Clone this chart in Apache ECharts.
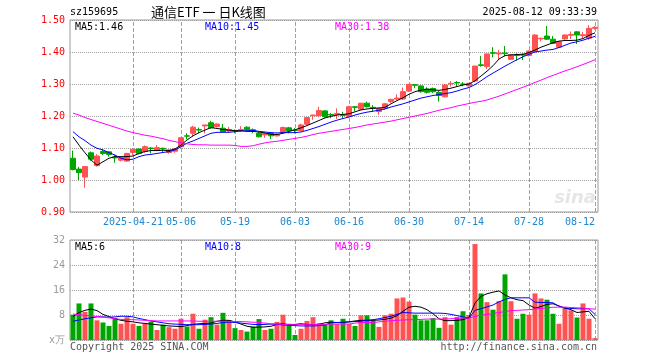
<!DOCTYPE html>
<html><head><meta charset="utf-8">
<script src="https://cdn.jsdelivr.net/npm/echarts@6/dist/echarts.min.js"></script>
<style>html,body{margin:0;padding:0;background:#fff}#c{width:660px;height:360px}</style>
</head><body><div id="c"></div>
<script>
const dates = [
'2025-04-07','2025-04-08','2025-04-09','2025-04-10','2025-04-11',
'2025-04-14','2025-04-15','2025-04-16','2025-04-17','2025-04-18',
'2025-04-21','2025-04-22','2025-04-23','2025-04-24','2025-04-25',
'2025-04-28','2025-04-29','2025-04-30',
'2025-05-06','2025-05-07','2025-05-08','2025-05-09',
'2025-05-12','2025-05-13','2025-05-14','2025-05-15','2025-05-16',
'2025-05-19','2025-05-20','2025-05-21','2025-05-22','2025-05-23',
'2025-05-26','2025-05-27','2025-05-28','2025-05-29','2025-05-30',
'2025-06-03','2025-06-04','2025-06-05','2025-06-06',
'2025-06-09','2025-06-10','2025-06-11','2025-06-12','2025-06-13',
'2025-06-16','2025-06-17','2025-06-18','2025-06-19','2025-06-20',
'2025-06-23','2025-06-24','2025-06-25','2025-06-26','2025-06-27',
'2025-06-30','2025-07-01','2025-07-02','2025-07-03','2025-07-04',
'2025-07-07','2025-07-08','2025-07-09','2025-07-10','2025-07-11',
'2025-07-14','2025-07-15','2025-07-16','2025-07-17','2025-07-18',
'2025-07-21','2025-07-22','2025-07-23','2025-07-24','2025-07-25',
'2025-07-28','2025-07-29','2025-07-30','2025-07-31','2025-08-01',
'2025-08-04','2025-08-05','2025-08-06','2025-08-07','2025-08-08',
'2025-08-11','2025-08-12'];

const opens = [1.068,1.034,1.009,1.085,1.045,1.089,1.088,1.072,1.062,1.059,
1.086,1.097,1.089,1.100,1.092,1.099,1.086,1.090,1.104,1.138,
1.146,1.158,1.169,1.179,1.167,1.162,1.153,1.155,1.155,1.165,
1.157,1.146,1.141,1.146,1.138,1.148,1.163,1.156,1.154,1.174,
1.201,1.201,1.216,1.205,1.205,1.204,1.198,1.229,1.221,1.240,
1.227,1.214,1.224,1.245,1.253,1.253,1.278,1.298,1.294,1.284,
1.286,1.274,1.260,1.300,1.305,1.300,1.294,1.309,1.360,1.354,
1.398,1.394,1.397,1.377,1.391,1.392,1.389,1.401,1.441,1.450,
1.440,1.415,1.441,1.452,1.463,1.451,1.443,1.474];
const closes = [1.033,1.023,1.042,1.065,1.075,1.083,1.080,1.069,1.070,1.083,
1.096,1.083,1.104,1.098,1.101,1.097,1.094,1.097,1.132,1.137,
1.165,1.156,1.172,1.163,1.175,1.151,1.158,1.153,1.158,1.157,
1.155,1.135,1.146,1.138,1.142,1.164,1.154,1.155,1.172,1.195,
1.203,1.217,1.198,1.203,1.208,1.202,1.229,1.227,1.240,1.229,
1.225,1.224,1.238,1.252,1.256,1.276,1.299,1.296,1.276,1.274,
1.276,1.264,1.297,1.302,1.303,1.299,1.302,1.356,1.358,1.394,
1.396,1.397,1.395,1.391,1.389,1.390,1.403,1.453,1.443,1.440,
1.427,1.432,1.453,1.455,1.453,1.454,1.474,1.477];
const lows = [1.030,1.000,0.976,1.060,1.042,1.078,1.073,1.054,1.058,1.057,
1.078,1.080,1.085,1.083,1.090,1.087,1.082,1.085,1.101,1.127,
1.135,1.146,1.146,1.160,1.164,1.150,1.149,1.146,1.151,1.155,
1.146,1.133,1.132,1.128,1.136,1.146,1.146,1.146,1.152,1.171,
1.188,1.196,1.195,1.193,1.191,1.193,1.195,1.215,1.218,1.226,
1.213,1.203,1.219,1.240,1.249,1.250,1.276,1.287,1.273,1.270,
1.272,1.245,1.258,1.292,1.292,1.293,1.292,1.306,1.354,1.347,
1.383,1.377,1.386,1.375,1.373,1.375,1.386,1.398,1.433,1.438,
1.425,1.413,1.438,1.441,1.425,1.443,1.438,1.470];
const highs = [1.092,1.041,1.042,1.089,1.081,1.096,1.090,1.078,1.072,1.085,
1.097,1.098,1.108,1.103,1.109,1.101,1.096,1.099,1.133,1.146,
1.169,1.164,1.172,1.185,1.177,1.175,1.166,1.158,1.168,1.168,
1.161,1.150,1.148,1.150,1.146,1.167,1.166,1.162,1.176,1.197,
1.204,1.229,1.218,1.209,1.224,1.213,1.232,1.230,1.241,1.245,
1.234,1.226,1.240,1.254,1.268,1.289,1.300,1.299,1.296,1.290,
1.289,1.278,1.300,1.309,1.309,1.306,1.304,1.357,1.388,1.395,
1.415,1.406,1.419,1.394,1.396,1.396,1.405,1.455,1.445,1.481,
1.450,1.434,1.455,1.464,1.465,1.463,1.484,1.481];

const ma5 = [1.135,1.109,1.085,1.063,1.046,1.057,1.068,1.073,1.073,1.073,
1.075,1.083,1.089,1.092,1.092,1.093,1.092,1.097,1.109,1.125,
1.138,1.148,1.156,1.164,1.161,1.158,1.156,1.154,1.154,1.152,
1.152,1.150,1.147,1.143,1.142,1.146,1.152,1.157,1.163,1.170,
1.178,1.186,1.194,1.199,1.203,1.205,1.207,1.213,1.219,1.222,
1.224,1.225,1.227,1.238,1.248,1.257,1.268,1.276,1.281,1.284,
1.282,1.280,1.283,1.287,1.292,1.297,1.300,1.310,1.325,1.340,
1.357,1.378,1.389,1.391,1.392,1.393,1.398,1.406,1.415,1.422,
1.429,1.434,1.436,1.436,1.437,1.442,1.452,1.460];
const ma10 = [1.151,1.135,1.123,1.109,1.099,1.094,1.085,1.078,1.068,1.063,
1.065,1.073,1.078,1.080,1.083,1.086,1.089,1.094,1.104,1.115,
1.122,1.130,1.138,1.146,1.149,1.149,1.149,1.151,1.153,1.154,
1.155,1.152,1.150,1.148,1.147,1.148,1.148,1.148,1.150,1.155,
1.161,1.167,1.174,1.181,1.187,1.192,1.197,1.203,1.208,1.212,
1.215,1.218,1.222,1.228,1.233,1.238,1.244,1.250,1.256,1.260,
1.264,1.267,1.270,1.273,1.278,1.284,1.289,1.298,1.310,1.323,
1.334,1.345,1.356,1.366,1.376,1.385,1.393,1.400,1.403,1.406,
1.408,1.414,1.421,1.428,1.432,1.437,1.443,1.449];
const ma30 = [1.209,1.203,1.195,1.189,1.183,1.177,1.171,1.165,1.159,1.153,
1.148,1.144,1.140,1.137,1.133,1.129,1.124,1.120,1.116,1.113,
1.111,1.110,1.110,1.109,1.109,1.109,1.109,1.108,1.105,1.105,
1.107,1.112,1.116,1.119,1.121,1.124,1.127,1.130,1.133,1.137,
1.142,1.146,1.149,1.152,1.155,1.158,1.161,1.164,1.168,1.172,
1.175,1.178,1.181,1.184,1.188,1.192,1.196,1.200,1.204,1.208,
1.213,1.218,1.222,1.226,1.231,1.235,1.239,1.243,1.246,1.250,
1.256,1.262,1.269,1.276,1.283,1.290,1.297,1.305,1.312,1.320,
1.327,1.334,1.341,1.347,1.354,1.361,1.368,1.376];

const volumes = [8.1,11.7,9.0,11.7,6.3,5.6,4.5,7.0,5.2,7.3,
5.2,4.5,5.2,5.9,3.2,4.9,4.1,3.6,6.8,4.3,
8.4,3.6,6.5,7.3,4.9,8.7,6.3,3.8,3.2,2.7,
4.3,6.7,3.2,3.6,5.8,8.1,5.2,1.6,3.6,6.1,
7.3,5.4,4.9,6.3,5.1,6.8,5.1,4.5,7.9,7.9,
6.3,4.2,7.9,8.4,13.3,13.6,12.3,8.1,6.3,6.3,
7.0,3.9,7.3,4.9,7.3,9.2,8.0,30.7,14.9,12.1,
9.7,12.4,21.0,12.4,6.8,8.4,8.1,14.9,13.3,12.9,
8.4,5.2,10.6,9.5,7.2,11.7,6.8,0.6];
const vma5 = [7.5,8.8,9.5,9.9,9.4,8.2,7.5,6.8,6.3,6.0,
5.8,5.5,5.3,5.1,4.9,4.7,4.5,4.4,4.3,4.6,
5.0,5.2,5.3,5.4,6.0,6.3,6.3,5.8,5.1,4.4,
4.1,4.1,4.2,4.4,5.0,5.2,4.9,5.0,5.2,5.0,
4.9,5.0,5.5,5.7,5.6,5.6,5.8,6.1,6.3,6.3,
6.3,6.4,6.6,7.0,7.8,9.2,10.5,10.8,10.5,9.7,
8.4,6.8,6.2,6.2,6.3,6.5,7.2,11.8,14.0,14.8,
15.3,15.7,14.4,13.5,12.9,12.6,11.2,10.2,10.7,11.4,
11.6,10.9,10.2,9.7,8.8,9.0,9.2,6.8];
const vma10 = [6.0,6.4,6.8,7.1,7.4,7.4,7.3,7.4,7.6,7.6,
7.4,6.9,6.5,6.1,5.8,5.5,5.2,5.1,5.0,4.9,
4.9,4.9,5.0,5.1,5.3,5.6,5.7,5.6,5.4,5.2,
5.0,4.9,5.0,5.1,5.0,4.8,4.7,4.6,4.5,4.5,
4.5,4.6,4.8,5.5,5.6,5.7,5.8,5.9,6.0,6.3,
6.5,6.8,7.2,7.6,8.2,8.8,8.7,8.6,8.6,8.6,
8.6,8.6,8.5,8.2,7.8,7.4,7.0,9.5,10.0,10.6,
11.2,12.2,13.0,13.5,13.5,13.5,13.5,12.1,12.0,12.0,
11.9,10.8,10.2,10.1,10.0,10.0,10.0,8.2];
const vma30 = [8.3,8.1,7.9,7.7,7.5,7.3,7.1,6.8,6.6,6.5,
6.5,6.4,6.3,6.2,6.1,6.1,6.1,6.1,6.1,6.1,
6.1,6.0,6.0,6.0,6.0,6.0,5.9,5.9,5.9,5.8,
5.7,5.6,5.4,5.2,5.1,5.0,4.9,4.9,4.9,4.9,
4.9,5.0,5.0,5.1,5.1,5.1,5.1,5.4,5.6,5.6,
5.6,5.8,6.0,6.2,6.3,6.4,6.5,6.5,6.6,6.7,
6.7,6.7,6.7,6.8,6.9,7.0,7.0,7.6,7.9,8.2,
8.5,8.8,9.1,9.4,9.5,9.6,9.7,9.9,10.1,10.3,
10.5,10.5,10.5,10.4,10.3,10.2,10.0,9.9];

const tickDates = ['2025-04-21','2025-05-06','2025-05-19','2025-06-03','2025-06-16','2025-06-30','2025-07-14','2025-07-28','2025-08-12'];
const tickLabels = ['2025-04-21','05-06','05-19','06-03','06-16','06-30','07-14','07-28','08-12'];
const priceLegend = ['MA5:1.46','MA10:1.45','MA30:1.38'];
const volLegend = ['MA5:6','MA10:8','MA30:9'];

const MONO = 'DejaVu Sans Mono';
const RED = '#ff5252', GREEN = '#00a600';
const C5 = '#000000', C10 = '#0000ff', C30 = '#ff00ff';
const GRIDC = '#a0a0a0';

const chart = echarts.init(document.getElementById('c'));
const kdata = dates.map((d,i)=>[opens[i],closes[i],lows[i],highs[i]]);
const vdata = volumes.map((v,i)=>({value:v, itemStyle:{color: closes[i]>=opens[i]?RED:GREEN}}));
function vLine(){
  return {silent:true, z:1, symbol:['none','none'], label:{show:false},
    lineStyle:{color:GRIDC, type:'dashed', width:1}, data: tickDates.map(d=>({xAxis:d}))};
}
function maLine(data, color, xi, yi, ml){
  const s = {type:'line', data, xAxisIndex:xi, yAxisIndex:yi, symbol:'none', showSymbol:false, silent:true,
    lineStyle:{color, width:1}, z:5};
  if (ml) s.markLine = ml;
  return s;
}
function txt(text, x, y, fill, align, font){
  return {type:'text', x, y, silent:true, style:{text, fill, textAlign:align||'left', textVerticalAlign:'middle', font: font || ('10px "'+MONO+'"')}};
}
const option = {
  animation:false,
  grid:[
    {left:70, top:20, width:528, height:192, show:true, z:0, borderColor:'#9a9a9a', borderWidth:1},
    {left:70, top:240, width:528, height:100, show:true, z:0, borderColor:'#9a9a9a', borderWidth:1}
  ],
  xAxis:[
    {type:'category', gridIndex:0, data:dates, boundaryGap:true,
     axisLine:{show:false}, axisTick:{show:false}, splitLine:{show:false},
     axisLabel:{interval:(idx,val)=>tickDates.indexOf(val)>=0,
       formatter:(val)=>{const k=tickDates.indexOf(val); return k===tickDates.length-1 ? '{last|'+tickLabels[k]+'}' : tickLabels[k];},
       color:'#1b88d0', fontFamily:MONO, fontSize:10, margin:5,
       rich:{last:{padding:[0,30,0,0], color:'#1b88d0', fontFamily:MONO, fontSize:10}}}},
    {type:'category', gridIndex:1, data:dates, boundaryGap:true,
     axisLine:{show:false}, axisTick:{show:false}, axisLabel:{show:false}, splitLine:{show:false}}
  ],
  yAxis:[
    {type:'value', gridIndex:0, min:0.9, max:1.5, interval:0.1,
     axisLine:{show:false}, axisTick:{show:false},
     axisLabel:{color:'#ff0000', fontFamily:MONO, fontSize:10, margin:5, formatter:v=>v.toFixed(2)},
     splitLine:{show:true, lineStyle:{color:GRIDC, type:'dotted', width:1}}},
    {type:'value', gridIndex:1, min:0, max:32, interval:8,
     axisLine:{show:false}, axisTick:{show:false},
     axisLabel:{color:'#999999', fontFamily:MONO, fontSize:10, margin:5, formatter:v=>v===0?'x万':String(v)},
     splitLine:{show:true, lineStyle:{color:GRIDC, type:'dotted', width:1}}}
  ],
  series:[
    {type:'candlestick', xAxisIndex:0, yAxisIndex:0, data:kdata, barWidth:5, z:3, silent:true,
     itemStyle:{color:RED, color0:GREEN, borderColor:RED, borderColor0:GREEN, borderWidth:1}},
    maLine(ma5, C5, 0, 0), maLine(ma10, C10, 0, 0), maLine(ma30, C30, 0, 0, vLine()),
    {type:'bar', xAxisIndex:1, yAxisIndex:1, data:vdata, barWidth:5, z:3, silent:true},
    maLine(vma5, C5, 1, 1), maLine(vma10, C10, 1, 1), maLine(vma30, C30, 1, 1, vLine())
  ],
  graphic:[
    txt('sz159695', 70, 12, '#000'),
    txt('通信ETF 一 日K线图', 151, 12, '#000', 'left', '13px "Noto Sans CJK SC"'),
    txt('2025-08-12 09:33:39', 597, 12, '#000', 'right'),
    txt(priceLegend[0], 75, 27, C5), txt(priceLegend[1], 205, 27, C10), txt(priceLegend[2], 335, 27, C30),
    txt(volLegend[0], 75, 247, C5), txt(volLegend[1], 205, 247, C10), txt(volLegend[2], 335, 247, C30),
    txt('Copyright 2025 SINA.COM', 70, 347, '#555'),
    txt('http://finance.sina.com.cn', 597, 347, '#555', 'right'),
    txt('sina', 596, 198, '#e6e6e6', 'right', 'italic bold 18px "DejaVu Sans"')
  ]
};
chart.setOption(option);
</script>
</body></html>
